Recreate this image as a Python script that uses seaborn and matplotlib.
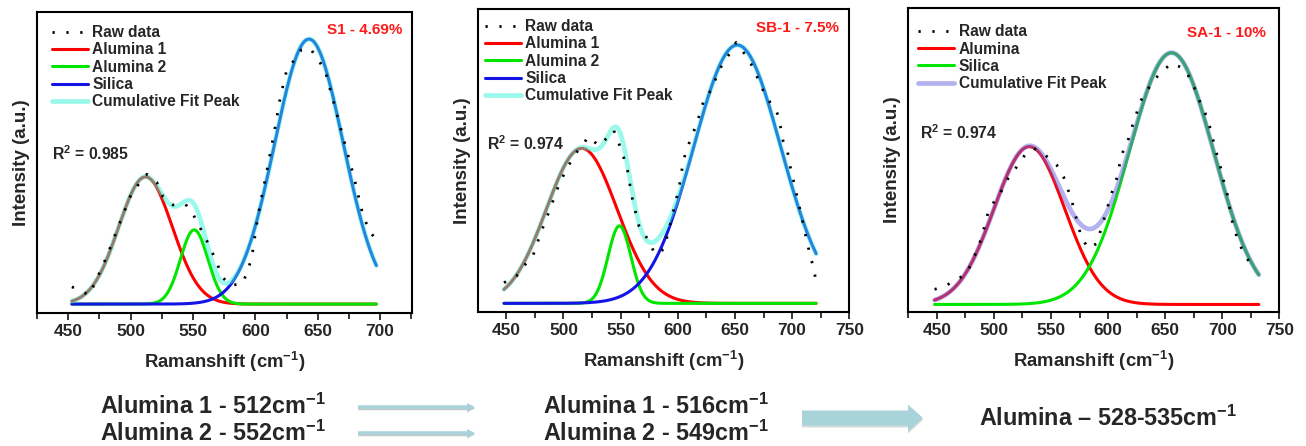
import numpy as np
import matplotlib
matplotlib.use("Agg")
import matplotlib.pyplot as plt
from matplotlib.patches import FancyArrow
from matplotlib.ticker import MultipleLocator
import seaborn as sns

# Raw spectra (normalised intensity, a.u.)
s1_raw_x = [453, 467, 481, 490, 501, 513, 521, 526, 534, 544, 550, 561, 566, 574, 580,
            590, 597, 602, 610, 616, 620, 625, 631, 637, 644, 652, 656, 668, 679, 686, 691, 697]
s1_raw_y = [0.065, 0.034, 0.18, 0.29, 0.42, 0.49, 0.46, 0.405, 0.374, 0.377, 0.34, 0.24, 0.19, 0.10, 0.07,
            0.078, 0.17, 0.33, 0.52, 0.67, 0.78, 0.88, 0.92, 0.96, 0.965, 0.91, 0.88, 0.67, 0.48, 0.34, 0.28, 0.24]

sb1_raw_x = [448, 459, 466, 473, 480, 489, 497, 509, 516, 522, 531, 538, 544, 551, 556, 560, 566,
             575, 580, 588, 593, 601, 605, 609, 617, 623, 630, 634, 640, 646, 651, 657, 665, 669,
             674, 679, 687, 690, 692, 696, 698, 701, 711, 716, 719, 721]
sb1_raw_y = [0.08, 0.106, 0.148, 0.18, 0.27, 0.374, 0.47, 0.57, 0.61, 0.645, 0.61, 0.64, 0.67, 0.59,
             0.516, 0.41, 0.30, 0.24, 0.19, 0.21, 0.30, 0.445, 0.555, 0.61, 0.70, 0.79, 0.83, 0.88,
             0.935, 0.97, 1.01, 0.975, 0.92, 0.88, 0.83, 0.79, 0.735, 0.68, 0.63, 0.587, 0.535, 0.48,
             0.28, 0.18, 0.135, 0.08]

sa1_raw_x = [448, 457, 467, 476, 481, 489, 495, 501, 508, 513, 520, 527, 535, 545, 555, 561, 568,
             574, 577, 583, 590, 597, 603, 608, 610, 613, 618, 621, 625, 628, 634, 640, 648, 656,
             666, 673, 680, 686, 689, 695, 698, 701, 704, 708, 711, 714, 720, 726]
sa1_raw_y = [0.06, 0.073, 0.097, 0.123, 0.17, 0.262, 0.368, 0.415, 0.46, 0.507, 0.547, 0.593, 0.62,
             0.593, 0.554, 0.507, 0.415, 0.31, 0.262, 0.222, 0.242, 0.348, 0.44, 0.507, 0.554, 0.607,
             0.66, 0.706, 0.76, 0.805, 0.85, 0.89, 0.93, 0.958, 0.938, 0.89, 0.81, 0.75, 0.706, 0.6,
             0.554, 0.494, 0.448, 0.342, 0.295, 0.249, 0.196, 0.15]

# Fitted gaussian peaks: centre (cm-1), height, sigma (cm-1)
s1_names = ["Alumina 1", "Alumina 2", "Silica"]
s1_centres = [512, 551, 643]
s1_heights = [0.48, 0.28, 1.0]
s1_sigmas = [21.5, 11, 27.5]

sb1_names = ["Alumina 1", "Alumina 2", "Silica"]
sb1_centres = [516, 549, 652]
sb1_heights = [0.60, 0.30, 1.0]
sb1_sigmas = [31, 10, 38]

sa1_names = ["Alumina", "Silica"]
sa1_centres = [531, 655.5]
sa1_heights = [0.627, 1.0]
sa1_sigmas = [31, 37]

samples = ["S1 - 4.69%", "SB-1 - 7.5%", "SA-1 - 10%"]
r2_values = ["0.985", "0.974", "0.974"]

# peak positions summary under the plots
row1_left = "Alumina 1 - 512cm$^{-1}$"
row2_left = "Alumina 2 - 552cm$^{-1}$"
row1_mid = "Alumina 1 - 516cm$^{-1}$"
row2_mid = "Alumina 2 - 549cm$^{-1}$"
right_text = "Alumina \u2013 528-535cm$^{-1}$"


def gauss(x, c, h, s):
    return h * np.exp(-(x - c) ** 2 / (2.0 * s ** 2))


sns.set_style("ticks")
plt.rcParams['font.family'] = ['Liberation Sans', 'DejaVu Sans']
plt.rcParams['font.weight'] = 'bold'
plt.rcParams['axes.labelweight'] = 'bold'
plt.rcParams['mathtext.fontset'] = 'custom'
plt.rcParams['mathtext.bf'] = 'Liberation Sans:bold'
plt.rcParams['mathtext.rm'] = 'Liberation Sans:bold'
plt.rcParams['mathtext.default'] = 'bf'


def draw_panel(ax, raw_x, raw_y, names, centres, heights, sigmas, colors, cum_color,
               xlim, ylim, ticks, sample, r2, leg_pos, sample_pos, r2_pos, x_span):
    x = np.linspace(x_span[0], x_span[1], 500)
    total = np.zeros_like(x)
    for name, c, h, s, col in zip(names, centres, heights, sigmas, colors):
        y = gauss(x, c, h, s)
        total += y
        sns.lineplot(x=x, y=y, ax=ax, color=col, lw=2.2, label=name, sort=False, zorder=2)
    sns.lineplot(x=x, y=total, ax=ax, color=cum_color, lw=3.4, alpha=0.5,
                 label="Cumulative Fit Peak", sort=False, zorder=3)
    sns.lineplot(x=raw_x, y=raw_y, ax=ax, color='black', lw=2.0, linestyle=(0, (0.8, 4.2)),
                 label="Raw data", sort=False, zorder=4)

    handles, labels = ax.get_legend_handles_labels()
    order = ["Raw data"] + list(names) + ["Cumulative Fit Peak"]
    hmap = dict(zip(labels, handles))
    ax.legend([hmap[k] for k in order], order, loc='upper left', bbox_to_anchor=leg_pos,
              frameon=False, fontsize=11.2, borderpad=0, borderaxespad=0,
              handlelength=2.3, handletextpad=0.3, labelspacing=0.15)

    ax.text(sample_pos[0], sample_pos[1], sample, transform=ax.transAxes, color='#ff1a1a',
            fontsize=11, ha='right', va='center')
    ax.text(r2_pos[0], r2_pos[1], "R$^{2}$ = " + r2, transform=ax.transAxes,
            fontsize=11.3, ha='left', va='center')

    ax.set_xlim(*xlim)
    ax.set_ylim(*ylim)
    ax.set_xticks(ticks)
    ax.set_xticklabels([str(t) for t in ticks], fontsize=12.5, fontweight='bold')
    ax.xaxis.set_minor_locator(MultipleLocator(25))
    ax.set_yticks([])
    ax.tick_params(axis='x', which='major', direction='out', length=5, width=1.3, pad=3)
    ax.tick_params(axis='x', which='minor', direction='out', length=4, width=1.3)
    for sp in ax.spines.values():
        sp.set_visible(True)
        sp.set_linewidth(1.5)
        sp.set_color('black')
    ax.set_xlabel("Ramanshift (cm$^{-1}$)", fontsize=13.3, labelpad=8)
    ax.set_ylabel("Intensity (a.u.)", fontsize=13.5, labelpad=5)


fig = plt.figure(figsize=(13.06, 4.46), dpi=100)
fig.patch.set_facecolor('white')

ax1 = fig.add_axes([0.0283, 0.298, 0.2872, 0.675])
ax2 = fig.add_axes([0.3662, 0.301, 0.2841, 0.678])
ax3 = fig.add_axes([0.6955, 0.301, 0.2841, 0.680])

red, green, blue = '#ff0000', '#00e600', '#1414e6'

draw_panel(ax1, s1_raw_x, s1_raw_y, s1_names, s1_centres, s1_heights, s1_sigmas,
           [red, green, blue], '#37f5d7', (425, 725.6), (-0.034, 1.102),
           [450, 500, 550, 600, 650, 700], samples[0], r2_values[0],
           (0.04, 0.957), (0.973, 0.94), (0.04, 0.528), (453, 697))
draw_panel(ax2, sb1_raw_x, sb1_raw_y, sb1_names, sb1_centres, sb1_heights, sb1_sigmas,
           [red, green, blue], '#37f5d7', (425.5, 750), (-0.0325, 1.138),
           [450, 500, 550, 600, 650, 700, 750], samples[1], r2_values[1],
           (0.018, 0.968), (0.972, 0.938), (0.023, 0.555), (448, 721))
draw_panel(ax3, sa1_raw_x, sa1_raw_y, sa1_names, sa1_centres, sa1_heights, sa1_sigmas,
           [red, green], '#6a64e0', (425, 750), (-0.029, 1.176),
           [450, 500, 550, 600, 650, 700, 750], samples[2], r2_values[2],
           (0.027, 0.948), (0.964, 0.919), (0.031, 0.592), (448, 732))

# overlay in pixel units for the summary text and arrows
ov = fig.add_axes([0, 0, 1, 1], zorder=-1)
ov.set_xlim(0, 1306)
ov.set_ylim(446, 0)
ov.axis('off')

ov.text(100, 406, row1_left, fontsize=16.8, ha='left', va='center')
ov.text(100, 433, row2_left, fontsize=16.8, ha='left', va='center')
ov.text(543, 406, row1_mid, fontsize=16.8, ha='left', va='center')
ov.text(543, 433, row2_mid, fontsize=16.8, ha='left', va='center')
ov.text(979, 418, right_text, fontsize=16.8, ha='left', va='center')

arrow_fc = '#a8d3d9'
for yy in (407, 433):
    ov.add_patch(FancyArrow(358, yy + 1.5, 117, 0, width=3.5, head_width=8, head_length=8,
                            length_includes_head=True, color='#9ea9ac', alpha=0.6, lw=0))
    ov.add_patch(FancyArrow(358, yy, 117, 0, width=3.5, head_width=8, head_length=8,
                            length_includes_head=True, color=arrow_fc, lw=0))
ov.add_patch(FancyArrow(802, 420, 121, 0, width=15, head_width=27, head_length=15,
                        length_includes_head=True, color='#b9c4c6', alpha=0.6, lw=0))
ov.add_patch(FancyArrow(802, 418, 121, 0, width=15, head_width=27, head_length=15,
                        length_includes_head=True, color=arrow_fc, lw=0))

fig.savefig("out.png", dpi=100)
